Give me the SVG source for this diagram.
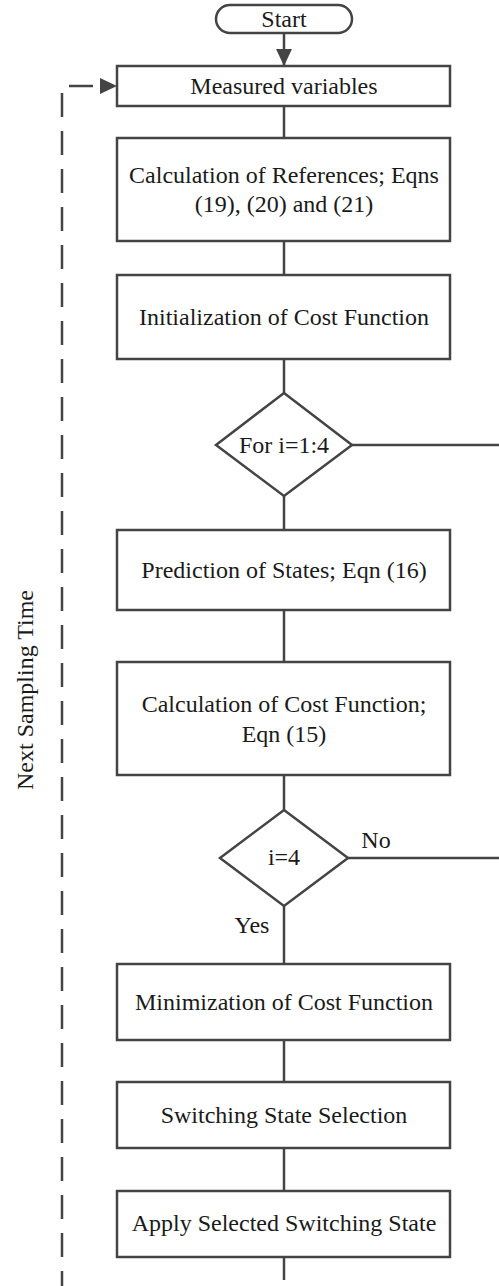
<svg xmlns="http://www.w3.org/2000/svg" width="499" height="1286" viewBox="0 0 499 1286">
<style>
.b{fill:#fff;stroke:#444;stroke-width:2.5}
.c{fill:none;stroke:#444;stroke-width:2.5}
.t{font-family:"Liberation Serif","Times New Roman",serif;font-size:24px;fill:#1a1a1a;text-anchor:middle}
</style>
<defs>
<marker id="ah" markerUnits="userSpaceOnUse" markerWidth="17" markerHeight="16" viewBox="0 0 17 16" refX="17" refY="8" orient="auto">
<path d="M0,0 L17,8 L0,16 z" fill="#444"/>
</marker>
</defs>
<rect width="499" height="1286" fill="#fff"/>
<g id="connectors">
<line class="c" x1="284" y1="33" x2="284" y2="66" marker-end="url(#ah)"/>
<line class="c" x1="284" y1="106" x2="284" y2="138"/>
<line class="c" x1="284" y1="241" x2="284" y2="275"/>
<line class="c" x1="284" y1="359" x2="284" y2="393"/>
<line class="c" x1="284" y1="496" x2="284" y2="530"/>
<line class="c" x1="284" y1="610" x2="284" y2="662"/>
<line class="c" x1="284" y1="775" x2="284" y2="810"/>
<line class="c" x1="284" y1="906" x2="284" y2="964"/>
<line class="c" x1="284" y1="1040" x2="284" y2="1082"/>
<line class="c" x1="284" y1="1148" x2="284" y2="1191"/>
<line class="c" x1="284" y1="1257" x2="284" y2="1280"/>
<line class="c" x1="352" y1="445" x2="499" y2="445"/>
<line class="c" x1="348" y1="858" x2="499" y2="858"/>
<path class="c" d="M100,86 H62 V1286" stroke-dasharray="24 14" stroke-dashoffset="31"/>
<line x1="99" y1="86" x2="117" y2="86" stroke="none" marker-end="url(#ah)"/>
<text class="t" x="376" y="848">No</text>
<text class="t" x="252" y="933">Yes</text>
<text class="t" transform="translate(33,690) rotate(-90)">Next Sampling Time</text>
</g>
<g id="start"><rect class="b" x="216" y="5" width="136" height="28" rx="14"/><text class="t" x="284" y="27">Start</text></g>
<g id="measured"><rect class="b" x="117" y="66" width="333" height="40"/><text class="t" x="284" y="94">Measured variables</text></g>
<g id="references"><rect class="b" x="117" y="138" width="333" height="103"/><text class="t" x="284" y="183">Calculation of References; Eqns</text><text class="t" x="284" y="212">(19), (20) and (21)</text></g>
<g id="init"><rect class="b" x="117" y="275" width="333" height="84"/><text class="t" x="284" y="325">Initialization of Cost Function</text></g>
<g id="for"><polygon class="b" points="284,393 352,445 284,496 216,445"/><text class="t" x="284" y="453">For i=1:4</text></g>
<g id="prediction"><rect class="b" x="117" y="530" width="333" height="80"/><text class="t" x="284" y="578">Prediction of States; Eqn (16)</text></g>
<g id="cost"><rect class="b" x="117" y="662" width="333" height="113"/><text class="t" x="284" y="712">Calculation of Cost Function;</text><text class="t" x="284" y="742">Eqn (15)</text></g>
<g id="check"><polygon class="b" points="284,810 348,858 284,906 220,858"/><text class="t" x="284" y="865">i=4</text></g>
<g id="minimization"><rect class="b" x="117" y="964" width="333" height="76"/><text class="t" x="284" y="1010">Minimization of Cost Function</text></g>
<g id="selection"><rect class="b" x="117" y="1082" width="333" height="66"/><text class="t" x="284" y="1123">Switching State Selection</text></g>
<g id="apply"><rect class="b" x="117" y="1191" width="333" height="66"/><text class="t" x="284" y="1231">Apply Selected Switching State</text></g>
</svg>
